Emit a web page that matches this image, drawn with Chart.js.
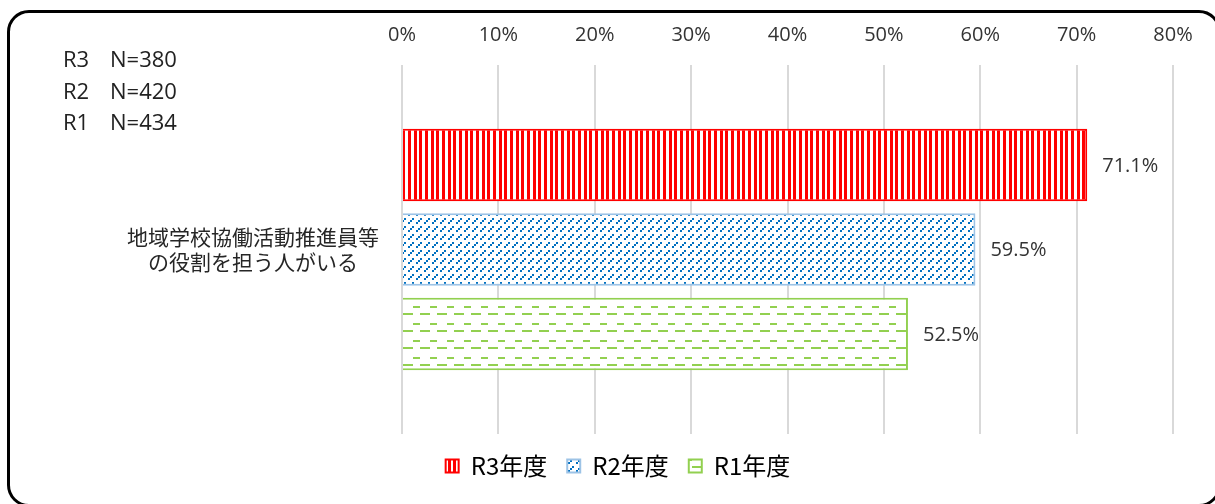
<!DOCTYPE html>
<html>
<head>
<meta charset="utf-8">
<script src="https://cdn.jsdelivr.net/npm/chart.js@4.4.1/dist/chart.umd.min.js"></script>
<style>
  html, body { margin: 0; padding: 0; background: #fff; overflow: hidden; }
  #wrap { position: relative; width: 1215px; height: 504px; }
  #frame { position: absolute; left: 7px; top: 10px; width: 1214px; height: 497px; box-sizing: border-box;
           border: 3px solid #000; border-radius: 22px; pointer-events: none; }
</style>
</head>
<body>
<div id="wrap">
  <canvas id="chart" width="1215" height="504"></canvas>
  <div id="frame"></div>
</div>
<script>
// data
var categories = [['地域学校協働活動推進員等', 'の役割を担う人がいる']];
var seriesNames = ['R3年度', 'R2年度', 'R1年度'];
var r3Values = [71.1];
var r2Values = [59.5];
var r1Values = [52.5];
var sampleLabels = ['R3', 'R2', 'R1'];
var sampleSizes = ['N=380', 'N=420', 'N=434'];
var axisMax = 80;
var axisStep = 10;

document.addEventListener('DOMContentLoaded', function () {
    var canvas = document.getElementById('chart');
    var ctx = canvas.getContext('2d');

    function makePattern(w, h, draw) {
        var tile = document.createElement('canvas');
        tile.width = w;
        tile.height = h;
        var t = tile.getContext('2d');
        t.fillStyle = '#ffffff';
        t.fillRect(0, 0, w, h);
        draw(t);
        return ctx.createPattern(tile, 'repeat');
    }

    // red vertical stripes
    var r3Pattern = makePattern(17, 4, function (t) {
        t.fillStyle = '#ff0000';
        t.fillRect(0, 0, 3, 4);
        t.fillRect(6, 0, 3, 4);
        t.fillRect(11, 0, 3, 4);
    });

    // blue dashed upward diagonal
    var r2Pattern = makePattern(8, 8, function (t) {
        t.fillStyle = '#0070c0';
        t.fillRect(0, 6, 2, 2);
        t.fillRect(2, 4, 2, 2);
        t.fillRect(4, 2, 2, 2);
    });

    // green dashed horizontal
    var r1Pattern = makePattern(17, 17, function (t) {
        t.fillStyle = '#92d050';
        t.fillRect(5, 0, 7, 2);
        t.fillRect(0, 7, 5, 2);
        t.fillRect(12, 7, 5, 2);
    });

    var valueLabels = {
        id: 'valueLabels',
        afterDatasetsDraw: function (chart) {
            var c = chart.ctx;
            c.save();
            c.font = '20px "Open Sans"';
            c.fillStyle = '#333333';
            c.textAlign = 'left';
            c.textBaseline = 'middle';
            chart.data.datasets.forEach(function (ds, i) {
                var meta = chart.getDatasetMeta(i);
                meta.data.forEach(function (bar, j) {
                    c.fillText(ds.data[j].toFixed(1) + '%', bar.x + 15, bar.y + 1);
                });
            });
            c.restore();
        }
    };

    var sampleText = {
        id: 'sampleText',
        afterDraw: function (chart) {
            var c = chart.ctx;
            c.save();
            c.font = '22px "Open Sans"';
            c.fillStyle = '#222222';
            c.textBaseline = 'middle';
            for (var i = 0; i < sampleLabels.length; i++) {
                var y = 61 + i * 31.5;
                c.fillText(sampleLabels[i], 63, y);
                c.fillText(sampleSizes[i], 110, y);
            }
            c.restore();
        }
    };

    var chart = new Chart(canvas, {
        type: 'bar',
        data: {
            labels: categories,
            datasets: [{
                label: seriesNames[0],
                data: r3Values,
                backgroundColor: r3Pattern,
                borderColor: '#ff0000',
                borderWidth: 2
            }, {
                label: seriesNames[1],
                data: r2Values,
                backgroundColor: r2Pattern,
                borderColor: '#9dc3e6',
                borderWidth: 2
            }, {
                label: seriesNames[2],
                data: r1Values,
                backgroundColor: r1Pattern,
                borderColor: '#92d050',
                borderWidth: 2
            }]
        },
        options: {
            indexAxis: 'y',
            responsive: false,
            animation: false,
            maintainAspectRatio: false,
            categoryPercentage: 0.687,
            barPercentage: 0.857,
            layout: {
                padding: { left: 63, right: 42, top: 0, bottom: 16 }
            },
            scales: {
                x: {
                    position: 'top',
                    min: 0,
                    max: axisMax,
                    ticks: {
                        stepSize: axisStep,
                        padding: 18,
                        color: '#333333',
                        font: { family: '"Open Sans"', size: 20 },
                        callback: function (v) { return v + '%'; }
                    },
                    grid: { color: '#d9d9d9', lineWidth: 2, drawTicks: false },
                    border: { display: false },
                    afterFit: function (scale) { scale.height = 65; }
                },
                y: {
                    grid: { display: false },
                    border: { display: false },
                    ticks: {
                        crossAlign: 'center',
                        padding: 15,
                        color: '#262626',
                        font: { family: '"Noto Sans CJK JP"', size: 21 }
                    },
                    afterFit: function (scale) { scale.width = 339; }
                }
            },
            plugins: {
                legend: {
                    position: 'bottom',
                    labels: {
                        boxWidth: 13,
                        boxHeight: 13,
                        padding: 20,
                        color: '#000000',
                        font: { family: '"Noto Sans CJK JP"', size: 24 }
                    }
                },
                tooltip: { enabled: false }
            }
        },
        plugins: [valueLabels, sampleText]
    });
});
</script>
</body>
</html>
